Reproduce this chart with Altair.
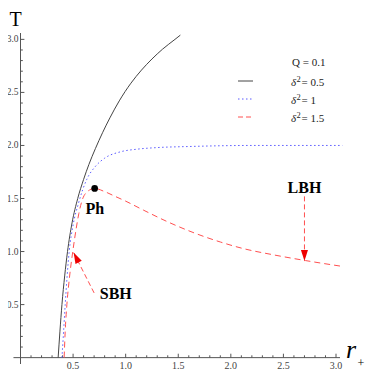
import math
import altair as alt
import pandas as pd

# ---------------- data ----------------
# delta^2 = 0.5 (solid black)
r_d05 = [0.358, 0.375, 0.394, 0.42, 0.447, 0.49, 0.544, 0.60, 0.65, 0.712, 0.78, 0.85, 0.939,
         1.05, 1.15, 1.25, 1.35, 1.469, 1.52]
T_d05 = [0.0, 0.25, 0.5, 0.77, 1.0, 1.27, 1.5, 1.68, 1.82, 1.97, 2.12, 2.26, 2.42,
         2.587, 2.71, 2.815, 2.907, 3.0, 3.04]
# delta^2 = 1 (dotted blue)
r_d1 = [0.394, 0.41, 0.425, 0.463, 0.50, 0.55, 0.63, 0.71, 0.80, 0.95, 1.11, 1.3, 1.6, 2.2, 3.06]
T_d1 = [0.0, 0.25, 0.5, 1.0, 1.25, 1.45, 1.68, 1.80, 1.88, 1.94, 1.965, 1.98, 1.99, 2.0, 2.0]
# delta^2 = 1.5 (dashed red)
r_d15 = [0.415, 0.425, 0.441, 0.465, 0.497, 0.53, 0.555, 0.585, 0.63, 0.705, 0.80, 0.90, 1.0,
         1.17, 1.4, 1.64, 1.9, 2.11, 2.4, 2.71, 3.06]
T_d15 = [0.0, 0.25, 0.5, 0.75, 1.0, 1.22, 1.36, 1.48, 1.56, 1.595, 1.565, 1.52, 1.475,
         1.39, 1.28, 1.18, 1.09, 1.03, 0.97, 0.915, 0.86]

# phase-transition point
ph_r = [0.705]
ph_T = [1.595]

# annotations
ann_text = ["Ph", "SBH", "LBH"]
ann_r = [0.706, 0.906, 2.70]
ann_T = [1.40, 0.60, 1.60]

# arrows (tail -> tip)
arr_r0 = [0.70, 2.70]
arr_T0 = [0.61, 1.52]
arr_r1 = [0.505, 2.70]
arr_T1 = [0.99, 0.91]

# ticks
major_ticks = [0.5, 1.0, 1.5, 2.0, 2.5, 3.0]
major_labels = ["0.5", "1.0", "1.5", "2.0", "2.5", "3.0"]
minor_ticks = [round(i * 0.1, 1) for i in range(1, 31) if i % 5 != 0]

# legend
legend_title = "Q = 0.1"
legend_vals = ["0.5", "1", "1.5"]

# ---------------- layout ----------------
FONT = "Liberation Serif"
W, H = 332, 331
XMIN, XMAX = -0.1189, 3.038
YMIN, YMAX = -0.06, 3.06
xs = alt.Scale(domain=[XMIN, XMAX], nice=False, zero=False)
ys = alt.Scale(domain=[YMIN, YMAX], nice=False, zero=False)
AX = "#555"


def X(f):
    return alt.X(f, type="quantitative", scale=xs, axis=None)


def Y(f):
    return alt.Y(f, type="quantitative", scale=ys, axis=None)


def curve(r, T, color, dash=None, width=1.0):
    df = pd.DataFrame({"r": r, "T": T})
    kw = dict(color=color, strokeWidth=width, interpolate="monotone")
    if dash:
        kw["strokeDash"] = dash
    return alt.Chart(df).mark_line(**kw).encode(x=X("r"), y=Y("T"))


layers = []

# axes lines (cross at the origin, slightly overshooting)
ax_df = pd.DataFrame({"x0": [-0.067], "x1": [XMAX], "y0": [0.0]})
layers.append(alt.Chart(ax_df).mark_rule(color=AX, strokeWidth=1).encode(
    x=X("x0"), x2="x1", y=Y("y0")))
ay_df = pd.DataFrame({"y0": [YMIN], "y1": [YMAX], "x0": [0.0]})
layers.append(alt.Chart(ay_df).mark_rule(color=AX, strokeWidth=1).encode(
    y=Y("y0"), y2="y1", x=X("x0")))

# ticks (inward)
tv = major_ticks + minor_ticks
tl = [0.037] * len(major_ticks) + [0.022] * len(minor_ticks)
xt_df = pd.DataFrame({"v": tv, "z": [0.0] * len(tv), "len": tl})
layers.append(alt.Chart(xt_df).mark_rule(color=AX, strokeWidth=1).encode(
    x=X("v"), y=Y("z"), y2="len"))
layers.append(alt.Chart(xt_df).mark_rule(color=AX, strokeWidth=1).encode(
    y=Y("v"), x=X("z"), x2="len"))

# tick labels
lab_df = pd.DataFrame({"v": major_ticks, "lab": major_labels, "z": [0.0] * len(major_ticks)})
layers.append(alt.Chart(lab_df).mark_text(font=FONT, fontSize=10, color="#444",
                                          baseline="middle", align="center", dy=8).encode(
    x=X("v"), y=Y("z"), text="lab:N"))
layers.append(alt.Chart(lab_df).mark_text(font=FONT, fontSize=9.5, color="#444",
                                          baseline="middle", align="right", dx=-2).encode(
    y=Y("v"), x=X("z"), text="lab:N"))

# curves
layers.append(curve(r_d05, T_d05, "#444"))
layers.append(curve(r_d1, T_d1, "#5a5aff", dash=[1.5, 2.5]))
layers.append(curve(r_d15, T_d15, "#ff5050", dash=[6, 4]))

# Ph point
layers.append(alt.Chart(pd.DataFrame({"r": ph_r, "T": ph_T})).mark_point(
    filled=True, color="black", size=45, opacity=1).encode(x=X("r"), y=Y("T")))

# arrows
ang = [(math.degrees(math.atan2(a1 - a0, b1 - b0)) + 360) % 360
       for a0, b0, a1, b1 in zip(arr_r0, arr_T0, arr_r1, arr_T1)]
arr_df = pd.DataFrame({"r0": arr_r0, "T0": arr_T0, "r1": arr_r1, "T1": arr_T1, "ang": ang})
layers.append(alt.Chart(arr_df).mark_rule(color="#ff5050", strokeWidth=1, strokeDash=[5, 3]).encode(
    x=X("r0"), y=Y("T0"), x2="r1", y2="T1"))
layers.append(alt.Chart(arr_df).mark_point(
    shape="M0,0L-0.64,2L0.64,2Z", filled=True, color="#ee0000", size=121, opacity=1).encode(
    x=X("r1"), y=Y("T1"), angle=alt.Angle("ang:Q", scale=None)))

# annotation texts
layers.append(alt.Chart(pd.DataFrame({"r": ann_r, "T": ann_T, "t": ann_text})).mark_text(
    font=FONT, fontSize=16, fontWeight="bold", color="black", baseline="middle", align="center").encode(
    x=X("r"), y=Y("T"), text="t:N"))

# legend (pixel positions inside the plot area)
leg_y = [48, 66, 84]
styles = [("#444", None), ("#5a5aff", [1.5, 2.5]), ("#ff5050", [5, 3])]
for yy, (col, dash) in zip(leg_y, styles):
    kw = dict(color=col, strokeWidth=1)
    if dash:
        kw["strokeDash"] = dash
    layers.append(alt.Chart(pd.DataFrame({"a": [0]})).mark_rule(**kw).encode(
        x=alt.value(230), x2=alt.value(245), y=alt.value(yy)))

layers.append(alt.Chart(pd.DataFrame({"t": [legend_title]})).mark_text(
    font=FONT, fontSize=11, color="#222", align="left", baseline="middle").encode(
    x=alt.value(284), y=alt.value(30), text="t:N"))
for yy, v in zip(leg_y, legend_vals):
    base = alt.Chart(pd.DataFrame({"t": ["δ"], "s": ["2"], "e": ["= " + v]}))
    layers.append(base.mark_text(font=FONT, fontSize=11, fontStyle="italic", color="#222",
                                 align="left", baseline="middle").encode(
        x=alt.value(283), y=alt.value(yy + 2), text="t:N"))
    layers.append(base.mark_text(font=FONT, fontSize=8.5, color="#222",
                                 align="left", baseline="middle").encode(
        x=alt.value(288.5), y=alt.value(yy - 2), text="s:N"))
    layers.append(base.mark_text(font=FONT, fontSize=11, color="#222",
                                 align="left", baseline="middle").encode(
        x=alt.value(293.5), y=alt.value(yy + 2), text="e:N"))

# axis titles
layers.append(alt.Chart(pd.DataFrame({"t": ["T"]})).mark_text(
    font=FONT, fontSize=20, color="black", align="center", baseline="alphabetic").encode(
    x=alt.value(7.5), y=alt.value(-7.5), text="t:N"))
layers.append(alt.Chart(pd.DataFrame({"t": ["r"]})).mark_text(
    font=FONT, fontSize=26, fontStyle="italic", color="black", align="center", baseline="alphabetic").encode(
    x=alt.value(343), y=alt.value(325), text="t:N"))
layers.append(alt.Chart(pd.DataFrame({"t": ["+"]})).mark_text(
    font=FONT, fontSize=12, color="black", align="center", baseline="alphabetic").encode(
    x=alt.value(353), y=alt.value(334), text="t:N"))

chart = alt.layer(*layers).properties(
    width=W, height=H,
    autosize=alt.AutoSizeParams(type="none"),
    padding={"left": 0, "top": 25, "right": 26, "bottom": 6},
    background="white",
).configure_view(stroke=None)

chart.save("out.html", embed_options={"renderer": "svg", "actions": False})
